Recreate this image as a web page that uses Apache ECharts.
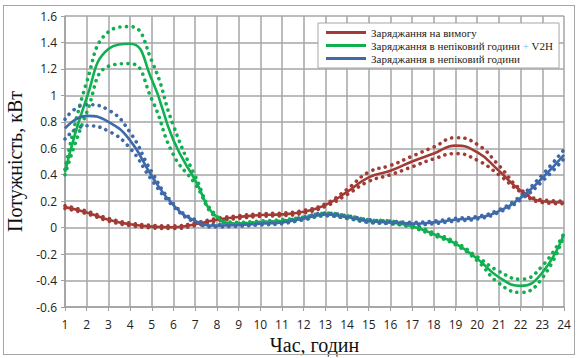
<!DOCTYPE html>
<html><head><meta charset="utf-8">
<script src="https://cdn.jsdelivr.net/npm/echarts@6/dist/echarts.min.js"></script>
<style>html,body{margin:0;padding:0;background:#fff}#c{width:577px;height:358px}#f{position:absolute;left:3px;top:5px;width:570px;height:348px;border:1.5px solid #a6a6a6;pointer-events:none}</style>
</head><body><div id="c"></div><div id="f"></div>
<script>
var hours = [1,2,3,4,5,6,7,8,9,10,11,12,13,14,15,16,17,18,19,20,21,22,23,24];
var seriesNames = ['Заряджання на вимогу','Заряджання в непіковий години + V2H','Заряджання в непіковий години'];

var demandMain  = [0.155,0.115,0.06,0.025,0.008,0.003,0.025,0.06,0.08,0.095,0.1,0.12,0.17,0.27,0.38,0.43,0.5,0.56,0.62,0.57,0.43,0.28,0.2,0.19];
var demandUpper = [0.165,0.125,0.07,0.035,0.018,0.013,0.035,0.07,0.09,0.105,0.11,0.13,0.18,0.29,0.42,0.47,0.54,0.61,0.68,0.63,0.47,0.29,0.21,0.2];
var demandLower = [0.145,0.105,0.05,0.015,-0.002,-0.007,0.015,0.05,0.07,0.085,0.09,0.11,0.16,0.25,0.35,0.40,0.46,0.52,0.56,0.51,0.40,0.27,0.19,0.18];

var v2hMain  = [0.42,0.98,1.35,1.39,1.12,0.66,0.36,0.08,0.03,0.04,0.05,0.07,0.1,0.08,0.05,0.04,0.01,-0.05,-0.12,-0.235,-0.375,-0.44,-0.34,-0.05];
var v2hUpper = [0.44,1.10,1.48,1.52,1.26,0.77,0.39,0.09,0.04,0.05,0.06,0.08,0.11,0.09,0.06,0.05,0.02,-0.04,-0.11,-0.22,-0.33,-0.39,-0.29,-0.04];
var v2hLower = [0.40,0.87,1.22,1.24,0.97,0.55,0.33,0.07,0.02,0.03,0.04,0.06,0.09,0.07,0.04,0.03,0.00,-0.06,-0.13,-0.25,-0.42,-0.49,-0.38,-0.06];

var offMain  = [0.75,0.845,0.80,0.66,0.39,0.17,0.05,0.015,0.02,0.03,0.04,0.07,0.1,0.08,0.05,0.04,0.03,0.04,0.06,0.075,0.125,0.225,0.375,0.55];
var offUpper = [0.82,0.93,0.89,0.72,0.42,0.18,0.06,0.025,0.03,0.04,0.05,0.08,0.11,0.09,0.06,0.05,0.04,0.05,0.07,0.085,0.135,0.24,0.40,0.59];
var offLower = [0.67,0.77,0.73,0.60,0.36,0.16,0.04,0.005,0.01,0.02,0.03,0.06,0.09,0.07,0.04,0.03,0.02,0.03,0.05,0.065,0.115,0.21,0.35,0.52];

var colors = ['#A23B36','#10B050','#3E6AAA'];

function pairs(arr){ return hours.map(function(h,i){ return [h, arr[i]]; }); }
function mainSeries(name, arr, color){
  return {name:name, type:'line', data:pairs(arr), smooth:0.5, symbol:'none', z:3,
    lineStyle:{color:color, width:2.6}, itemStyle:{color:color}};
}
function bandSeries(name, arr, color){
  return {name:name, type:'line', data:pairs(arr), smooth:0.5, symbol:'none', z:2, silent:true,
    lineStyle:{color:color, width:3.6, type:[0.1,6.5], cap:'round'}, itemStyle:{color:color}};
}

var chart = echarts.init(document.getElementById('c'), null, {renderer:'svg'});
chart.setOption({
  animation:false,
  backgroundColor:'#fff',
  grid:{left:65, right:13, top:16, bottom:51, outerBoundsMode:'none', containLabel:false},
  legend:{
    data:seriesNames, orient:'vertical', left:318, top:23,
    backgroundColor:'#fff', borderColor:'#a6a6a6', borderWidth:1, padding:[4,6,4,8],
    itemGap:2, icon:'rect', itemWidth:40, itemHeight:3,
    textStyle:{fontFamily:'Liberation Serif', fontSize:11, color:'#222',
      rich:{p:{fontFamily:'Liberation Serif', fontSize:11, color:'#7fb3e6'}, t:{fontFamily:'Liberation Serif', fontSize:11, color:'#222'}}},
    formatter:function(n){
      if(n.indexOf('+')>=0){ var parts=n.split('+'); return '{t|'+parts[0]+'}{p|+}{t|'+parts[1]+'}'; }
      return n;
    }
  },
  xAxis:{type:'value', min:1, max:24, interval:1,
    name:'Час, годин', nameLocation:'middle', nameGap:28,
    nameTextStyle:{fontFamily:'Liberation Serif', fontSize:20, color:'#111'},
    axisLine:{show:true, onZero:false, lineStyle:{color:'#a0a0a0', width:1.5}},
    axisTick:{show:true, length:4, lineStyle:{color:'#a0a0a0'}},
    axisLabel:{fontFamily:'Open Sans', fontSize:12, color:'#222', margin:11},
    splitLine:{show:true, lineStyle:{color:'#a6a6a6', width:1.5}}
  },
  yAxis:{type:'value', min:-0.6, max:1.6, interval:0.2,
    name:'Потужність, кВт', nameLocation:'middle', nameGap:35,
    nameTextStyle:{fontFamily:'Liberation Serif', fontSize:20, color:'#111'},
    axisLine:{show:true, lineStyle:{color:'#a0a0a0', width:1.5}},
    axisTick:{show:true, length:4, lineStyle:{color:'#a0a0a0'}},
    axisLabel:{fontFamily:'Open Sans', fontSize:12, color:'#222', margin:8,
      formatter:function(v){ var r=Math.round(v*10)/10; return String(r); }},
    splitLine:{show:true, lineStyle:{color:'#a6a6a6', width:1.5}}
  },
  series:[
    bandSeries('b1u', demandUpper, colors[0]), bandSeries('b1l', demandLower, colors[0]),
    bandSeries('b2u', v2hUpper, colors[1]), bandSeries('b2l', v2hLower, colors[1]),
    bandSeries('b3u', offUpper, colors[2]), bandSeries('b3l', offLower, colors[2]),
    mainSeries(seriesNames[0], demandMain, colors[0]),
    mainSeries(seriesNames[1], v2hMain, colors[1]),
    mainSeries(seriesNames[2], offMain, colors[2])
  ]
});
</script></body></html>
